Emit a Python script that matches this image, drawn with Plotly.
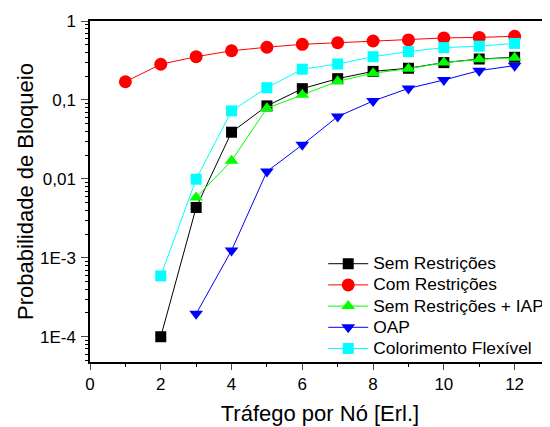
import plotly.graph_objects as go

x_red = [1, 2, 3, 4, 5, 6, 7, 8, 9, 10, 11, 12]
x_main = [2, 3, 4, 5, 6, 7, 8, 9, 10, 11, 12]
x_from3 = [3, 4, 5, 6, 7, 8, 9, 10, 11, 12]

sem_restricoes = [1e-4, 0.00434, 0.039, 0.084, 0.139, 0.186, 0.23, 0.252, 0.297, 0.33, 0.347]
com_restricoes = [0.17, 0.283, 0.353, 0.42, 0.465, 0.507, 0.53, 0.558, 0.575, 0.61, 0.62, 0.64]
sem_iap = [0.0058, 0.017, 0.0784, 0.116, 0.172, 0.218, 0.249, 0.297, 0.327, 0.343]
oap = [1.95e-4, 0.00124, 0.0124, 0.027, 0.0615, 0.097, 0.14, 0.179, 0.235, 0.272]
colorimento = [5.9e-4, 0.0099, 0.0726, 0.143, 0.245, 0.285, 0.353, 0.41, 0.46, 0.48, 0.52]

y_tickvals = [1e-4, 1e-3, 1e-2, 1e-1, 1]
y_ticktext = ["1E-4", "1E-3", "0,01", "0,1", "1"]
x_tickvals = [0, 2, 4, 6, 8, 10, 12]

series = [
    ("Sem Restrições", x_main, sem_restricoes, "black", "square", 11),
    ("Com Restrições", x_red, com_restricoes, "red", "circle", 13),
    ("Sem Restrições + IAP", x_from3, sem_iap, "#00ff00", "triangle-up", 12),
    ("OAP", x_from3, oap, "blue", "triangle-down", 12),
    ("Colorimento Flexível", x_main, colorimento, "cyan", "square", 11),
]

fig = go.Figure()
for name, xs, ys, color, sym, size in series:
    fig.add_trace(go.Scatter(
        x=xs, y=ys, name="<span style='font-size:17.4px'>" + name + "</span>",
        mode="lines+markers",
        line=dict(color=color, width=1),
        marker=dict(color=color, symbol=sym, size=size, line=dict(width=0)),
    ))

minor_vals = [m * 10 ** e for e in range(-5, 0) for m in range(2, 10)]

fig.update_layout(
    width=570, height=427,
    margin=dict(l=82, r=28, t=13, b=73),
    paper_bgcolor="white", plot_bgcolor="white",
    font=dict(family="Arial, Liberation Sans, sans-serif", size=17, color="black"),
    showlegend=True,
    legend=dict(x=0.507, y=0.334, xanchor="left", yanchor="top",
                bgcolor="rgba(0,0,0,0)", font=dict(size=14),
                itemwidth=40, tracegroupgap=0),
)
fig.update_xaxes(
    range=[0, 13], tickvals=x_tickvals, ticks="outside", ticklen=6, tickwidth=1,
    showline=True, linecolor="black", linewidth=1.5, mirror=True,
    showgrid=False, zeroline=False, automargin=False,
    minor=dict(tickvals=[1, 3, 5, 7, 9, 11], ticks="outside", ticklen=3, tickcolor="black"),
    title=dict(text="Tráfego por Nó [Erl.]", font=dict(size=22), standoff=12),
    tickfont=dict(size=17),
)
fig.update_yaxes(
    type="log", range=[-4.32, 0], tickvals=y_tickvals, ticktext=y_ticktext,
    ticks="outside", ticklen=7, tickwidth=1, ticklabelstandoff=2,
    showline=True, linecolor="black", linewidth=1.5, mirror=True,
    showgrid=False, zeroline=False, automargin=False,
    minor=dict(tickvals=minor_vals, ticks="outside", ticklen=3, tickcolor="black"),
    title=dict(text="Probabilidade de Bloqueio", font=dict(size=22), standoff=0),
    tickfont=dict(size=17),
)

fig.write_html("out.html")
